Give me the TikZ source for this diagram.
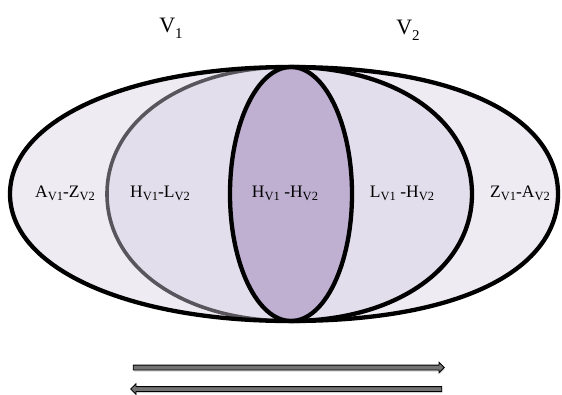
\documentclass[tikz,border=0pt]{standalone}
\usepackage{fontspec}
\setmainfont{Liberation Serif}
\usepackage{xcolor}
\usepackage{tikz}
\usetikzlibrary{shapes.arrows,shadows}
\definecolor{setlight}{RGB}{238,235,243}
\definecolor{setmid}{RGB}{227,222,235}
\definecolor{setcore}{RGB}{191,176,210}
\definecolor{rimgrey}{RGB}{88,85,92}
\newcommand{\sbs}[1]{\raisebox{-3pt}{\fontsize{12.5}{13}\selectfont #1}}
\newcommand{\vsbs}[1]{\raisebox{-6pt}{\fontsize{15}{15}\selectfont #1}}
\tikzset{
rim/.style={
line width=4.3pt,
line join=round
},
setlabel/.style={
inner sep=0pt,
font=\fontsize{17.5}{19}\selectfont
},
vlabel/.style={
inner sep=0pt,
font=\fontsize{22}{24}\selectfont
},
bararrow/.style={
single arrow,
draw=black,
fill=black!55,
line width=0.8pt,
inner sep=2pt,
minimum height=311pt,
single arrow head extend=2.8pt,
drop shadow={opacity=0.35,shadow xshift=0.6pt,shadow yshift=-1.6pt}
}
}
\begin{document}
\begin{tikzpicture}[x=1pt,y=-1pt]
\useasboundingbox[fill=white](0,0) rectangle (562,394);
\coordinate (top) at (290,67);
\coordinate (bot) at (290,321);

% outer area
\fill[setlight](top) .. controls (127,67) and (10,120.3) .. (10,194)
  .. controls (10,267.7) and (127,321) .. (bot)
  .. controls (465,321) and (558,267.7) .. (558,194)
  .. controls (558,120.3) and (465,67) .. (top) -- cycle;
% overlap of V1 and V2
\fill[setmid](top) .. controls (184,67) and (107,120.3) .. (107,194)
  .. controls (107,267.7) and (184,321) .. (bot)
  .. controls (396,321) and (472,267.7) .. (472,194)
  .. controls (472,120.3) and (396,67) .. (top) -- cycle;
\draw[rim,rimgrey,line width=3.6pt](top) .. controls (184,67) and (107,120.3) .. (107,194)
  .. controls (107,267.7) and (184,321) .. (bot);
\draw[rim](top) .. controls (396,67) and (472,120.3) .. (472,194)
  .. controls (472,267.7) and (396,321) .. (bot);
% core
\draw[rim,fill=setcore](291,194) ellipse[x radius=61pt,y radius=127pt];
% outline
\draw[rim](top) .. controls (127,67) and (10,120.3) .. (10,194)
  .. controls (10,267.7) and (127,321) .. (bot)
  .. controls (465,321) and (558,267.7) .. (558,194)
  .. controls (558,120.3) and (465,67) .. (top) -- cycle;

\node[vlabel](lblV1) at (171,28){V\vsbs{1}};
\node[vlabel](lblV2) at (408,30){V\vsbs{2}};

\node[setlabel](lblAZ) at (65,193){A\sbs{V1}-Z\sbs{V2}};
\node[setlabel](lblHL) at (160,193){H\sbs{V1}-L\sbs{V2}};
\node[setlabel](lblHH) at (285,193){H\sbs{V1} -H\sbs{V2}};
\node[setlabel](lblLH) at (402,193){L\sbs{V1} -H\sbs{V2}};
\node[setlabel](lblZA) at (520,193){Z\sbs{V1}-A\sbs{V2}};

\node[bararrow](fwdarrow) at (287.5,367.5){};
\node[bararrow,shape border rotate=180](backarrow) at (287.5,389){};
\end{tikzpicture}
\end{document}
